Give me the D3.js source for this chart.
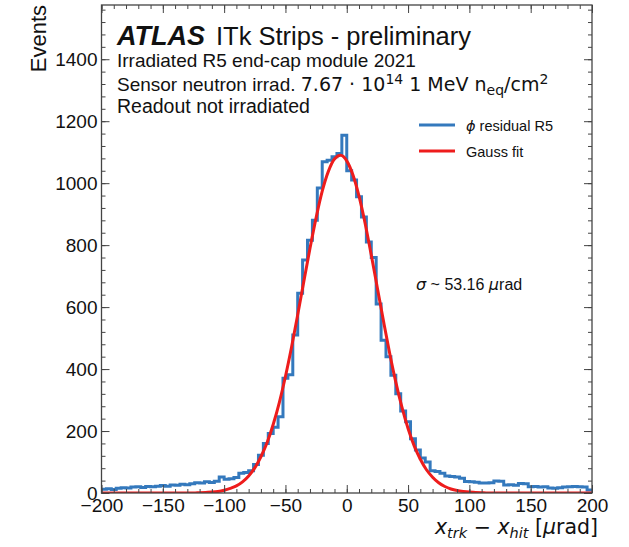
<!DOCTYPE html>
<html>
<head>
<meta charset="utf-8">
<script src="https://cdn.jsdelivr.net/npm/d3@7"></script>
<style>
  html, body { margin: 0; padding: 0; background: #fff; }
  svg { display: block; }
  text { font-family: "Liberation Sans", Arial, Helvetica, sans-serif; fill: #111; }
  .math { font-family: "DejaVu Sans", sans-serif; }
</style>
</head>
<body>
<svg id="chart" width="629" height="547"></svg>
<script>
// ---------- data ----------
const binWidth = 4;
const binStart = -200;
// histogram counts, bins of 4 µrad from -200 to 200
const counts = [
  12, 14, 11, 15, 17, 16, 19, 20, 18, 21,
  20, 22, 24, 22, 26, 25, 28, 27, 30, 33,
  32, 36, 34, 38, 52, 44, 46, 50, 64, 66,
  72, 92, 122, 160, 192, 212, 246, 370, 382, 510,
  645, 752, 816, 880, 984, 1069, 1074, 1085, 1096, 1155,
  1040, 1010, 956, 891, 810, 760, 610, 493, 440, 380,
  320, 265, 230, 175, 139, 113, 100, 72, 69, 64,
  55, 53, 52, 48, 37, 36, 35, 32, 32, 33,
  39, 38, 26, 27, 25, 31, 30, 20, 21, 19,
  20, 16, 15, 17, 19, 20, 21, 20, 19, 10
];
// Gauss fit curve, sampled every 5 µrad
const fitX = [-200, -125, -120, -115, -110, -105, -100, -95, -90, -85, -80, -75, -70, -65, -60, -55, -50, -45, -40, -35,
  -30, -25, -20, -15, -10, -5, 0, 5, 10, 15, 20, 25, 30, 35, 40, 45, 50, 55, 60, 65,
  70, 75, 80, 85, 90, 95, 100, 105, 110, 115, 200];
const fitY = [0, 0, 1, 2, 3, 5, 9, 15, 23, 36, 55, 81, 117, 162, 221, 292, 376, 471, 575, 683,
  789, 888, 974, 1038, 1078, 1090, 1072, 1027, 958, 870, 768, 661, 554, 451, 358, 277, 208, 152, 109, 75,
  51, 33, 21, 13, 8, 5, 3, 2, 1, 0, 0];
const xTicks = [-200, -150, -100, -50, 0, 50, 100, 150, 200];
const yTicks = [0, 200, 400, 600, 800, 1000, 1200, 1400];
const xDomain = [-200, 200];
const yDomain = [0, 1575];
const legendLabels = ["ϕ residual R5", "Gauss fit"];
const seriesColors = ["#3479bd", "#ee1c1c"];

// ---------- layout ----------
const svg = d3.select("#chart");
const L = 101.5, R = 592, T = 5, B = 493;
const x = d3.scaleLinear().domain(xDomain).range([L, R]);
const y = d3.scaleLinear().domain(yDomain).range([B, T]);

svg.append("defs").append("clipPath").attr("id", "clip")
  .append("rect").attr("x", L).attr("y", T).attr("width", R - L).attr("height", B - T);

// histogram step
const pts = counts.map((c, i) => [binStart + i * binWidth, c]);
pts.push([binStart + counts.length * binWidth, counts[counts.length - 1]]);
const step = d3.line().x(d => x(d[0])).y(d => y(d[1])).curve(d3.curveStepAfter);
const g = svg.append("g").attr("clip-path", "url(#clip)");
g.append("path").attr("d", step(pts)).attr("fill", "none")
  .attr("stroke", seriesColors[0]).attr("stroke-width", 3).attr("stroke-linejoin", "miter");

// fit curve
const fitLine = d3.line().x((d, i) => x(fitX[i])).y(d => y(d)).curve(d3.curveMonotoneX);
g.append("path").attr("d", fitLine(fitY)).attr("fill", "none")
  .attr("stroke", seriesColors[1]).attr("stroke-width", 3);

// ---------- axes (inward ticks on all sides) ----------
const frameColor = "#444";
const fmt = d => d < 0 ? "\u2212" + Math.abs(d) : String(d);
const xMinor = d3.range(-200, 201, 10);
const yMinor = d3.range(0, 1575, 40);

function tickAxis(axisGen, transform) {
  const a = svg.append("g").attr("transform", transform).call(axisGen);
  a.select(".domain").remove();
  a.selectAll("line").attr("stroke", frameColor).attr("stroke-width", 1);
  return a;
}
// bottom
tickAxis(d3.axisBottom(x).tickValues(xMinor).tickSize(-4).tickFormat(""), `translate(0,${B})`);
const xb = tickAxis(d3.axisBottom(x).tickValues(xTicks).tickSize(-8).tickPadding(6).tickFormat(fmt), `translate(0,${B})`);
xb.selectAll("text").attr("font-size", 19).attr("fill", "#111")
  .style("font-family", "'Liberation Sans', Arial, sans-serif");
// top
tickAxis(d3.axisTop(x).tickValues(xMinor).tickSize(-4).tickFormat(""), `translate(0,${T})`);
tickAxis(d3.axisTop(x).tickValues(xTicks).tickSize(-8).tickFormat(""), `translate(0,${T})`);
// left
tickAxis(d3.axisLeft(y).tickValues(yMinor).tickSize(-4).tickFormat(""), `translate(${L},0)`);
const yl = tickAxis(d3.axisLeft(y).tickValues(yTicks).tickSize(-8).tickPadding(4).tickFormat(fmt), `translate(${L},0)`);
yl.selectAll("text").attr("font-size", 19).attr("fill", "#111")
  .style("font-family", "'Liberation Sans', Arial, sans-serif");
// right
tickAxis(d3.axisRight(y).tickValues(yMinor).tickSize(-4).tickFormat(""), `translate(${R},0)`);
tickAxis(d3.axisRight(y).tickValues(yTicks).tickSize(-8).tickFormat(""), `translate(${R},0)`);

svg.append("rect").attr("x", L).attr("y", T).attr("width", R - L).attr("height", B - T)
  .attr("fill", "none").attr("stroke", frameColor).attr("stroke-width", 1.3);

// ---------- axis titles ----------
svg.append("text").attr("transform", `translate(46,5) rotate(-90)`)
  .attr("text-anchor", "end").attr("font-size", 22).text("Events");

const xl = svg.append("text").attr("x", 598).attr("y", 534).attr("text-anchor", "end")
  .attr("class", "math").attr("font-size", 20.5);
xl.append("tspan").attr("font-style", "italic").text("x");
xl.append("tspan").attr("font-style", "italic").attr("font-size", 14.5).attr("dy", 4).text("trk");
xl.append("tspan").attr("dy", -4).text(" \u2212 ");
xl.append("tspan").attr("font-style", "italic").text("x");
xl.append("tspan").attr("font-style", "italic").attr("font-size", 14.5).attr("dy", 4).text("hit");
xl.append("tspan").attr("dy", -4).text(" [");
xl.append("tspan").attr("font-style", "italic").text("\u03bc");
xl.append("tspan").text("rad]");

// ---------- annotations ----------
const t1 = svg.append("text").attr("x", 117).attr("y", 45);
t1.append("tspan").attr("font-weight", "bold").attr("font-style", "italic").attr("font-size", 27).text("ATLAS");
t1.append("tspan").attr("font-size", 25.5).attr("dx", 11).text("ITk Strips - preliminary");

svg.append("text").attr("x", 117).attr("y", 67).attr("font-size", 19).text("Irradiated R5 end-cap module 2021");

const t3 = svg.append("text").attr("x", 117).attr("y", 91).attr("font-size", 19);
t3.append("tspan").text("Sensor neutron irrad. ");
t3.append("tspan").attr("class", "math").attr("font-size", 19).text("7.67 \u00b7 10");
t3.append("tspan").attr("class", "math").attr("font-size", 14).attr("dy", -7).text("14");
t3.append("tspan").attr("class", "math").attr("font-size", 19).attr("dy", 7).text(" 1 MeV n");
t3.append("tspan").attr("class", "math").attr("font-size", 14).attr("dy", 4).text("eq");
t3.append("tspan").attr("class", "math").attr("font-size", 19).attr("dy", -4).text("/cm");
t3.append("tspan").attr("class", "math").attr("font-size", 14).attr("dy", -7).text("2");

svg.append("text").attr("x", 117).attr("y", 113).attr("font-size", 19.5).text("Readout not irradiated");

// legend
legendLabels.forEach((lab, i) => {
  const yy = 125 + i * 26;
  svg.append("line").attr("x1", 419).attr("x2", 455).attr("y1", yy).attr("y2", yy)
    .attr("stroke", seriesColors[i]).attr("stroke-width", 3);
  const tt = svg.append("text").attr("x", 466).attr("y", yy + 5.5).attr("font-size", 14.5);
  if (i === 0) {
    tt.append("tspan").attr("class", "math").attr("font-style", "italic").text("\u03d5");
    tt.append("tspan").text(lab.slice(1));
  } else {
    tt.text(lab);
  }
});

const sl = svg.append("text").attr("x", 416).attr("y", 290).attr("font-size", 16);
sl.append("tspan").attr("class", "math").attr("font-style", "italic").text("\u03c3");
sl.append("tspan").text(" ~ 53.16 ");
sl.append("tspan").attr("class", "math").attr("font-style", "italic").text("\u03bc");
sl.append("tspan").text("rad");
</script>
</body>
</html>
